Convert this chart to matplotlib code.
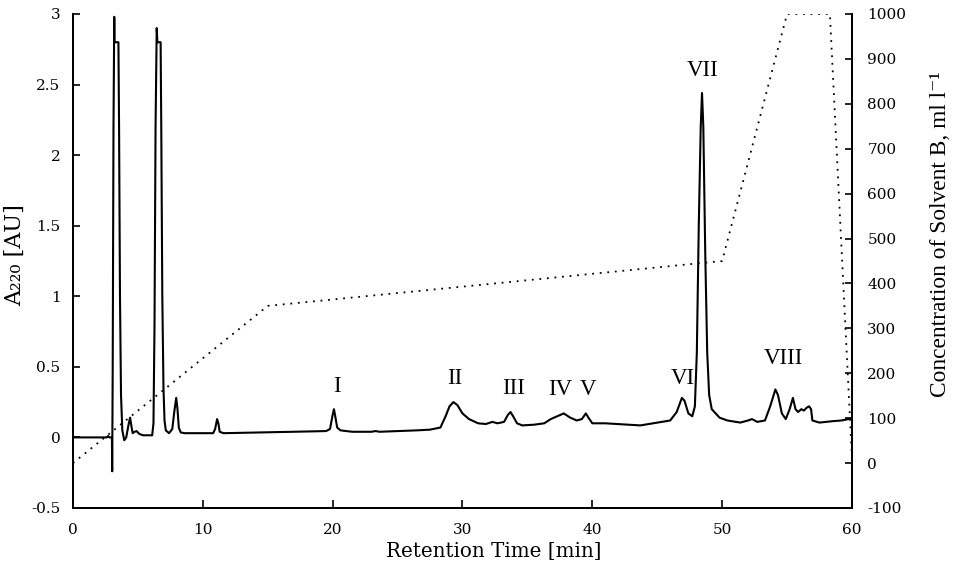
import matplotlib
matplotlib.use("Agg")
import matplotlib.pyplot as plt

plt.rcParams['axes.unicode_minus'] = False

# chromatogram trace (A220, AU)
time_min = [0, 2.6, 2.7, 2.8, 3.0, 3.02, 3.06, 3.12, 3.18, 3.2, 3.5, 3.55, 3.62, 3.7, 3.8,
            3.95, 4.1, 4.3, 4.4, 4.5, 4.6, 4.75, 4.9, 5.1, 5.4, 6.1, 6.2, 6.28, 6.36, 6.45,
            6.5, 6.75, 6.8, 6.88, 6.97, 7.05, 7.15, 7.4, 7.65, 7.8, 7.95, 8.05, 8.15, 8.3,
            8.6, 10.8, 10.95, 11.1, 11.2, 11.3, 11.6, 14.5, 17.0, 19.5, 19.8, 20.0, 20.1,
            20.2, 20.35, 20.6, 21.5, 23.0, 23.3, 23.6, 25.0, 26.5, 27.5, 28.3, 28.7, 29.0,
            29.3, 29.6, 30.0, 30.5, 31.2, 31.8, 32.3, 32.7, 33.2, 33.5, 33.7, 33.9, 34.2,
            34.6, 35.5, 36.3, 36.8, 37.3, 37.8, 38.3, 38.8, 39.2, 39.5, 39.7, 40.0, 41.0,
            43.7, 46.0, 46.5, 46.9, 47.1, 47.4, 47.7, 47.9, 48.05, 48.2, 48.35, 48.45,
            48.55, 48.7, 48.85, 49.0, 49.2, 49.8, 50.4, 51.4, 52.0, 52.3, 52.7, 53.3, 53.7,
            54.1, 54.3, 54.6, 54.9, 55.2, 55.45, 55.65, 55.85, 56.1, 56.3, 56.5, 56.7,
            56.85, 56.95, 57.5, 58.5, 59.2, 60.0]
absorbance = [0, 0, 0.01, 0, 0, -0.24, 0.5, 2.2, 2.98, 2.8, 2.8, 2.2, 1.0, 0.3, 0.05,
              -0.02, 0.0, 0.1, 0.14, 0.08, 0.03, 0.04, 0.045, 0.025, 0.015, 0.015, 0.1, 0.8,
              2.2, 2.9, 2.8, 2.8, 2.2, 1.0, 0.35, 0.12, 0.05, 0.03, 0.06, 0.18, 0.28, 0.2,
              0.07, 0.035, 0.03, 0.03, 0.06, 0.13, 0.1, 0.04, 0.03, 0.035, 0.04, 0.045, 0.06,
              0.16, 0.2, 0.15, 0.07, 0.05, 0.04, 0.04, 0.045, 0.04, 0.045, 0.05, 0.055, 0.07,
              0.15, 0.22, 0.25, 0.23, 0.17, 0.13, 0.1, 0.095, 0.11, 0.1, 0.11, 0.16, 0.18,
              0.15, 0.1, 0.085, 0.09, 0.1, 0.13, 0.15, 0.17, 0.14, 0.12, 0.13, 0.17, 0.14,
              0.1, 0.1, 0.085, 0.12, 0.18, 0.28, 0.26, 0.17, 0.15, 0.22, 0.6, 1.5, 2.2, 2.44,
              2.2, 1.3, 0.6, 0.3, 0.2, 0.14, 0.12, 0.105, 0.12, 0.13, 0.11, 0.12, 0.22, 0.34,
              0.3, 0.17, 0.13, 0.2, 0.28, 0.2, 0.18, 0.2, 0.19, 0.21, 0.22, 0.2, 0.12, 0.105,
              0.115, 0.12, 0.135]

# solvent B gradient (ml/l)
grad_time = [0, 15, 50, 55, 58.3, 60]
grad_conc = [0, 350, 450, 1000, 1000, 10]

# peak labels
peak_names = ['I', 'II', 'III', 'IV', 'V', 'VI', 'VII', 'VIII']
peak_x = [20.3, 29.4, 33.9, 37.5, 39.7, 47.0, 48.5, 54.7]
peak_y = [0.36, 0.42, 0.35, 0.34, 0.34, 0.42, 2.6, 0.56]

left_ticks = [-0.5, 0, 0.5, 1, 1.5, 2, 2.5, 3]
left_labels = ['-0.5', '0', '0.5', '1', '1.5', '2', '2.5', '3']
right_ticks = [-100, 0, 100, 200, 300, 400, 500, 600, 700, 800, 900, 1000]
x_ticks = [0, 10, 20, 30, 40, 50, 60]

tick_font = 'DejaVu Serif'
times = ['Liberation Serif', 'DejaVu Serif']

fig = plt.figure(figsize=(9.59, 5.66), dpi=100)
ax = fig.add_axes([0.0761, 0.1025, 0.8123, 0.8728])
ax2 = ax.twinx()

ax.plot(time_min, absorbance, color='black', lw=1.5)
ax2.plot(grad_time, grad_conc, color='black', lw=1.3, linestyle=(0, (1, 3.2)))

for name, x, y in zip(peak_names, peak_x, peak_y):
    ax.text(x, y, name, ha='center', va='center', fontsize=16.5, family=times)

ax.set_xlim(0, 60)
ax.set_ylim(-0.5, 3)
ax2.set_ylim(-100, 1000)

ax.set_xticks(x_ticks)
ax.set_xticklabels([str(v) for v in x_ticks], family=tick_font, fontsize=11)
ax.set_yticks(left_ticks)
ax.set_yticklabels(left_labels, family=tick_font, fontsize=11)
ax2.set_yticks(right_ticks)
ax2.set_yticklabels([str(v) for v in right_ticks], family=tick_font, fontsize=11)

ax.tick_params(axis='x', direction='in', length=6, width=1.2, pad=11)
ax.tick_params(axis='y', direction='in', length=5, width=1.2, pad=9)
ax2.tick_params(axis='y', direction='in', length=5, width=1.2, pad=11)

for a in (ax, ax2):
    a.spines['top'].set_visible(False)
    for s in ('left', 'right', 'bottom'):
        a.spines[s].set_linewidth(1.4)

fig.text(494 / 959, 1 - 551 / 566, 'Retention Time [min]', ha='center', va='center',
         fontsize=14.3, family=tick_font)
fig.text(15 / 959, 1 - 255 / 566, 'A₂₂₀ [AU]', ha='center', va='center', rotation=90,
         fontsize=16, family=tick_font)
fig.text(940 / 959, 1 - 234 / 566, 'Concentration of Solvent B, ml l⁻¹', ha='center',
         va='center', rotation=90, fontsize=16.8, family=times)

fig.savefig('out.png', dpi=100)
